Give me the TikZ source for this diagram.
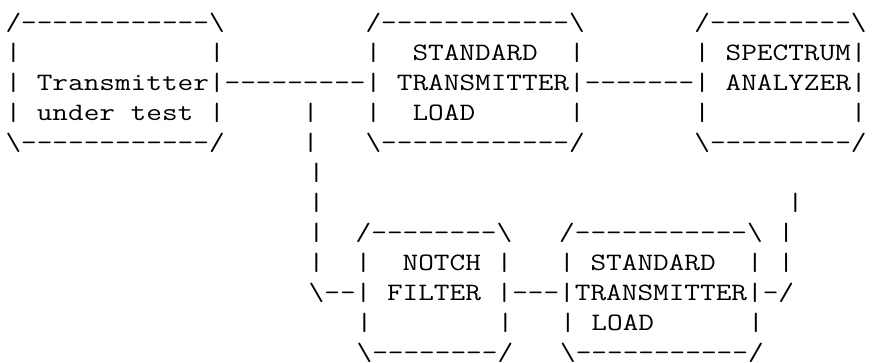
\documentclass[tikz,border=0pt]{standalone}
\usepackage{fontspec}
\usepackage{graphicx}
\usetikzlibrary{positioning}

\newcommand{\bksl}{\textbackslash}
% typewriter cells widened to 15.96pt
\newcommand{\cells}[1]{\scalebox{1.216}[1]{#1}}

\begin{document}
\begin{tikzpicture}[x=1pt,y=1pt,
    line/.style={anchor=base west,inner sep=0pt,outer sep=0pt,
      font=\ttfamily\fontsize{25}{30}\selectfont}]
   \useasboundingbox (0,0) rectangle (880,-362);
   % column c sits at 5.5+15.96c, row r has its baseline at -(30+30r)
   \node[line] (r0) at ({5.5+15.96*0},-30)
     {\cells{/------------\bksl~~~~~~~~~/------------\bksl~~~~~~~/---------\bksl}};
   \node[line] (r1) at ({5.5+15.96*0},-60)
     {\cells{|~~~~~~~~~~~~|~~~~~~~~~|~~STANDARD~~|~~~~~~~|~SPECTRUM|}};
   \node[line] (r2) at ({5.5+15.96*0},-90)
     {\cells{|~Transmitter|---------|~TRANSMITTER|-------|~ANALYZER|}};
   \node[line] (r3) at ({5.5+15.96*0},-120)
     {\cells{|~under~test~|~~~~~|~~~|~~LOAD~~~~~~|~~~~~~~|~~~~~~~~~|}};
   \node[line] (r4) at ({5.5+15.96*0},-150)
     {\cells{\bksl------------/~~~~~|~~~\bksl------------/~~~~~~~\bksl---------/}};
   % riser down to the notch filter, return line up from the lower load
   \node[line] (r5) at ({5.5+15.96*19},-180) {\cells{|}};
   \node[line] (r6a) at ({5.5+15.96*19},-210) {\cells{|}};
   \node[line] (r6b) at ({5.5+15.96*49},-210) {\cells{|}};
   \node[line] (r7) at ({5.5+15.96*19},-240)
     {\cells{|~~/--------\bksl~~~/-----------\bksl~|}};
   \node[line] (r8) at ({5.5+15.96*19},-270)
     {\cells{|~~|~~NOTCH~|~~~|~STANDARD~~|~|}};
   \node[line] (r9) at ({5.5+15.96*19},-300)
     {\cells{\bksl--|~FILTER~|---|TRANSMITTER|-/}};
   \node[line] (r10) at ({5.5+15.96*22},-330)
     {\cells{|~~~~~~~~|~~~|~LOAD~~~~~~|}};
   \node[line] (r11) at ({5.5+15.96*22},-360)
     {\cells{\bksl--------/~~~\bksl-----------/}};
\end{tikzpicture}
\end{document}
